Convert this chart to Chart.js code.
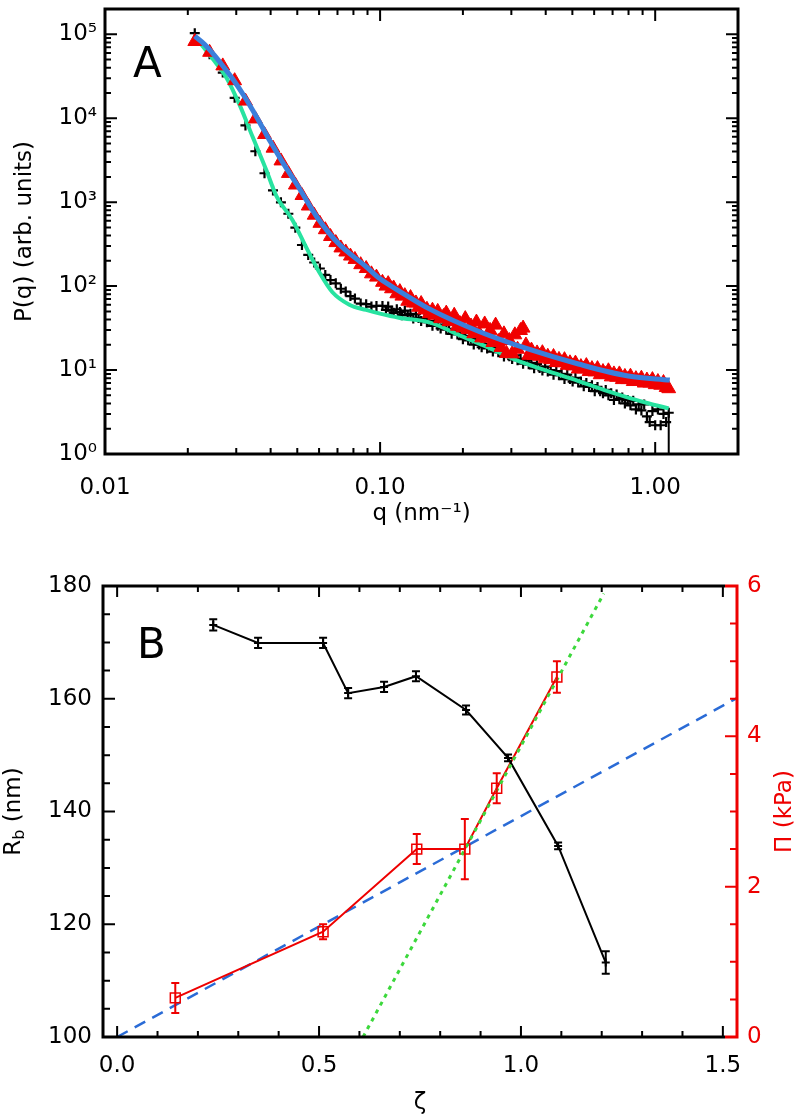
<!DOCTYPE html>
<html>
<head>
<meta charset="utf-8">
<script src="https://cdn.jsdelivr.net/npm/chart.js@4.4.0/dist/chart.umd.min.js"></script>
<style>
  html, body { margin: 0; padding: 0; background: #fff; }
  #wrap { position: relative; width: 799px; height: 1114px; }
  #chartA { position: absolute; left: 0; top: 0; }
  #chartB { position: absolute; left: 0; top: 545px; }
</style>
</head>
<body>
<div id="wrap">
  <canvas id="chartA" width="799" height="545"></canvas>
  <canvas id="chartB" width="799" height="569"></canvas>
</div>
<script>
// ---------- Panel A: scattering curves ----------
var qData = [0.0212, 0.0240, 0.0268, 0.0296, 0.0324, 0.0352, 0.0380, 0.0408, 0.0436, 0.0464,
  0.0492, 0.0520, 0.0548, 0.0576, 0.0604, 0.0632, 0.0660, 0.0690, 0.0720, 0.0750,
  0.0780, 0.0810, 0.0850, 0.0890, 0.0930, 0.0970,
  0.102, 0.105, 0.107, 0.110, 0.112, 0.115, 0.118, 0.120, 0.123, 0.126,
  0.129, 0.132, 0.135, 0.138, 0.141, 0.145, 0.148, 0.151, 0.155, 0.158,
  0.162, 0.166, 0.170, 0.174, 0.178, 0.182, 0.186, 0.191, 0.195, 0.200,
  0.204, 0.209, 0.214, 0.219, 0.224, 0.229, 0.234, 0.240, 0.245, 0.251,
  0.257, 0.263, 0.269, 0.275, 0.282, 0.288, 0.295, 0.302, 0.309, 0.316,
  0.324, 0.331, 0.339, 0.347, 0.355, 0.363, 0.372, 0.380, 0.389, 0.398,
  0.407, 0.417, 0.427, 0.437, 0.447, 0.457, 0.468, 0.479, 0.490, 0.501,
  0.513, 0.525, 0.537, 0.550, 0.562, 0.575, 0.589, 0.603, 0.617, 0.631,
  0.646, 0.661, 0.676, 0.692, 0.708, 0.724, 0.741, 0.759, 0.776, 0.794,
  0.813, 0.832, 0.851, 0.871, 0.891, 0.912, 0.933, 0.955, 0.977, 1.000,
  1.023, 1.047, 1.072, 1.096, 1.120];

var pBlack = [103000, 58000, 35000, 17500, 8200, 4040, 2210, 1380, 995, 728,
  497, 309, 235, 191, 162, 136, 118, 108, 93, 86,
  76, 71, 62, 61, 57, 58,
  58, 52, 57, 51, 48, 53, 49, 45, 51, 45,
  46.7, 41, 46.4, 41.8, 38.5, 41.5, 37.2, 38.3, 33.6, 37.4,
  33.6, 31.3, 34.6, 30.3, 30.9, 27, 30.1, 26.5, 27.1, 23.3,
  25.5, 22.6, 23.6, 20.1, 22.7, 20.1, 18.7, 20.4, 18.1, 19.0,
  16.6, 18.2, 16.3, 17.0, 14.5, 16.3, 14.6, 13.5, 15.0, 13.1,
  13.6, 11.9, 13.0, 11.7, 12.2, 10.5, 11.8, 10.6, 9.9, 11.0,
  9.6, 10.0, 8.8, 9.7, 8.7, 9.0, 7.8, 8.8, 7.8, 7.3,
  8.1, 7.1, 7.3, 6.4, 7.0, 6.3, 6.6, 5.6, 6.3, 5.6,
  5.3, 5.8, 5.0, 5.3, 4.4, 5.1, 4.5, 4.7, 4.0, 4.4,
  3.8, 4.3, 3.4, 3.9, 3.3, 3.9, 2.8, 2.4, 3.25, 2.2,
  3.4, 2.2, 3.0, 2.4, 3.1];

var pRed = [82000, 61000, 42000, 28000, 16000, 9800, 6400, 4400, 3100, 2200,
  1600, 1200, 900, 700, 560, 470, 390, 330, 285, 255,
  228, 208, 180, 162, 140, 128,
  111, 100, 107, 93, 95, 81, 86, 76, 77, 66,
  73, 63, 63, 56, 62, 52, 53, 47, 51.6, 45,
  50, 41, 43.5, 47.7, 37.7, 38.6, 45, 33.3, 35.9, 31.8,
  41, 30.4, 33.5, 27.1, 37.3, 27.4, 24.2, 35.4, 23.9, 29.7,
  21.3, 34.3, 21.9, 18.6, 27, 15.8, 22.5, 15.6, 26.3, 17.7,
  29.6, 31.6, 19.9, 15.0, 17.3, 14.9, 16.0, 14.6, 16.1, 13.6,
  14.6, 13.3, 14.5, 12.3, 13.4, 12.2, 13.3, 11.4, 12.2, 11.2,
  12.1, 10.3, 11.0, 10.3, 11.3, 9.6, 10.4, 9.5, 10.4, 8.8,
  9.6, 8.9, 9.8, 8.3, 9.0, 8.2, 9.0, 7.7, 8.4, 7.7,
  8.45, 7.3, 7.9, 7.3, 8.0, 7.0, 7.6, 7.0, 7.7, 6.7,
  7.3, 6.6, 7.1, 6.2, 6.0];

// fit curves
var qGreenFit = [0.0212, 0.0221, 0.0250, 0.0277, 0.0308, 0.0344, 0.0386, 0.0420, 0.0480, 0.0544,
  0.0601, 0.0670, 0.0773, 0.0890, 0.100, 0.117, 0.151, 0.200, 0.248, 0.311,
  0.400, 0.526, 0.650, 0.798, 0.950, 1.120];
var pGreenFit = [95000, 80000, 48000, 30000, 14600, 6000, 2400, 1180, 614, 272,
  146, 85, 60, 52, 47, 42, 37, 25, 18.5, 13.2,
  9.9, 7.4, 5.8, 4.7, 4.0, 3.5];

var qBlueFit = [0.0212, 0.0230, 0.0250, 0.0272, 0.0291, 0.0320, 0.0356, 0.0400, 0.0442, 0.0500,
  0.0586, 0.0700, 0.0890, 0.100, 0.117, 0.151, 0.229, 0.347, 0.526, 0.798, 1.130];
var pBlueFit = [95000, 76000, 56000, 39500, 29500, 18500, 10300, 5200, 3000, 1600,
  685, 330, 170, 122, 88, 53.6, 28.8, 17.7, 11.8, 8.5, 7.6];

var blackTailErr = 2.1;
var aXTicks = [0.01, 0.1, 1];
var aYTicks = [1, 10, 100, 1000, 10000, 100000];

// ---------- Panel B: radius and pressure vs zeta ----------
var zetaRb = [0.238, 0.349, 0.510, 0.572, 0.661, 0.740, 0.864, 0.968, 1.092, 1.210];
var rb = [173.1, 169.9, 169.9, 161.0, 162.1, 164.0, 158.0, 149.5, 133.9, 113.2];
var rbErr = [1.0, 0.9, 0.9, 0.9, 0.9, 0.9, 0.8, 0.6, 0.6, 2.0];

var zetaPi = [0.144, 0.510, 0.742, 0.861, 0.940, 1.089];
var pi = [0.52, 1.40, 2.50, 2.50, 3.31, 4.79];
var piErr = [0.2, 0.1, 0.2, 0.4, 0.2, 0.21];

var zetaBlueFit = [0, 1.535];
var piBlueFit = [0, 4.51];
var zetaGreenFit = [0.609, 1.205];
var piGreenFit = [0, 5.9];

var bXTicks = [0, 0.5, 1, 1.5];
var bYTicks = [100, 120, 140, 160, 180];
var bY2Ticks = [0, 2, 4, 6];

Chart.defaults.font.family = "'DejaVu Sans', sans-serif";
Chart.defaults.font.size = 23;
Chart.defaults.color = '#000';

function pts(xs, ys) {
  return xs.map(function (x, i) { return { x: x, y: ys[i] }; });
}

var sup = { 0: '\u2070', 1: '\u00b9', 2: '\u00b2', 3: '\u00b3', 4: '\u2074', 5: '\u2075' };

// fixed axis boxes so the plot areas sit where the figure has them
function fixWidth(w) {
  return function (s) { s.width = w; s.paddingTop = 0; s.paddingBottom = 0; };
}
function fixHeight(h) {
  return function (s) { s.height = h; s.paddingLeft = 0; s.paddingRight = 0; };
}
function setTicks(list) {
  return function (s) { s.ticks = list.map(function (v) { return { value: v }; }); };
}

// minor tick positions (axis decoration only)
function logMinors(lo, hi) {
  var out = [];
  for (var d = lo; d <= hi; d++) {
    for (var m = 2; m <= 9; m++) out.push(m * Math.pow(10, d));
  }
  return out;
}
function linMinors(from, to, step, majorStep) {
  var out = [];
  var n = Math.round((to - from) / step);
  for (var i = 0; i <= n; i++) {
    var v = from + i * step;
    if (Math.abs(v / majorStep - Math.round(v / majorStep)) > 1e-6) out.push(v);
  }
  return out;
}

function tickMarks(ctx, scale, area, values, len, sides) {
  ctx.beginPath();
  values.forEach(function (v) {
    var p = scale.getPixelForValue(v);
    if (scale.isHorizontal()) {
      if (p < area.left + 1 || p > area.right - 1) return;
      if (sides.indexOf('bottom') >= 0) { ctx.moveTo(p, area.bottom); ctx.lineTo(p, area.bottom - len); }
      if (sides.indexOf('top') >= 0) { ctx.moveTo(p, area.top); ctx.lineTo(p, area.top + len); }
    } else {
      if (p < area.top + 1 || p > area.bottom - 1) return;
      if (sides.indexOf('left') >= 0) { ctx.moveTo(area.left, p); ctx.lineTo(area.left + len, p); }
      if (sides.indexOf('right') >= 0) { ctx.moveTo(area.right, p); ctx.lineTo(area.right - len, p); }
    }
  });
  ctx.stroke();
}

// error bars from dataset.errLo / errHi
var errorBars = {
  id: 'errorBars',
  afterDatasetsDraw: function (chart) {
    var ctx = chart.ctx, a = chart.chartArea;
    ctx.save();
    ctx.beginPath();
    ctx.rect(a.left, a.top, a.right - a.left, a.bottom - a.top);
    ctx.clip();
    chart.data.datasets.forEach(function (ds, i) {
      if (!ds.errLo) return;
      var meta = chart.getDatasetMeta(i);
      var ys = chart.scales[meta.yAxisID];
      ctx.strokeStyle = ds.errColor;
      ctx.lineWidth = 2;
      meta.data.forEach(function (pt, j) {
        if (ds.errLo[j] == null) return;
        var y1 = ys.getPixelForValue(ds.errLo[j]);
        var y2 = ys.getPixelForValue(ds.errHi[j]);
        ctx.beginPath();
        ctx.moveTo(pt.x, y1); ctx.lineTo(pt.x, y2);
        if (ds.errCap) {
          ctx.moveTo(pt.x - ds.errCap, y1); ctx.lineTo(pt.x + ds.errCap, y1);
          ctx.moveTo(pt.x - ds.errCap, y2); ctx.lineTo(pt.x + ds.errCap, y2);
        }
        ctx.stroke();
      });
    });
    ctx.restore();
  }
};

// Panel A frame with inward ticks
var frameA = {
  id: 'frameA',
  afterDraw: function (chart) {
    var ctx = chart.ctx, a = chart.chartArea, x = chart.scales.x, y = chart.scales.y;
    ctx.save();
    ctx.strokeStyle = '#000';
    ctx.lineWidth = 3;
    ctx.strokeRect(a.left, a.top, a.right - a.left, a.bottom - a.top);
    ctx.lineWidth = 2;
    tickMarks(ctx, x, a, aXTicks, 12, ['bottom', 'top']);
    tickMarks(ctx, x, a, logMinors(-2, 0), 6, ['bottom', 'top']);
    tickMarks(ctx, y, a, aYTicks, 12, ['left', 'right']);
    tickMarks(ctx, y, a, logMinors(0, 5), 6, ['left', 'right']);
    ctx.fillStyle = '#000';
    ctx.font = "42px 'DejaVu Sans'";
    ctx.textBaseline = 'alphabetic';
    ctx.fillText('A', 133, 77);
    ctx.restore();
  }
};

// Panel B frame, red right axis, titles
var frameB = {
  id: 'frameB',
  afterDraw: function (chart) {
    var ctx = chart.ctx, a = chart.chartArea;
    var x = chart.scales.x, y = chart.scales.y, y2 = chart.scales.y2;
    var red = '#ee0000';
    ctx.save();
    ctx.strokeStyle = '#000';
    ctx.lineWidth = 3;
    ctx.beginPath();
    ctx.moveTo(a.right - 12, a.top); ctx.lineTo(a.left, a.top);
    ctx.lineTo(a.left, a.bottom); ctx.lineTo(a.right - 12, a.bottom);
    ctx.stroke();
    ctx.lineWidth = 2;
    tickMarks(ctx, x, a, bXTicks, 11, ['bottom', 'top']);
    tickMarks(ctx, x, a, linMinors(0, 1.5, 0.1, 0.5), 6, ['bottom', 'top']);
    tickMarks(ctx, y, a, bYTicks, 12, ['left']);
    tickMarks(ctx, y, a, linMinors(100, 180, 5, 20), 7, ['left']);
    ctx.strokeStyle = red;
    ctx.lineWidth = 3;
    ctx.beginPath();
    ctx.moveTo(a.right - 12, a.top); ctx.lineTo(a.right, a.top);
    ctx.lineTo(a.right, a.bottom); ctx.lineTo(a.right - 12, a.bottom);
    ctx.stroke();
    ctx.lineWidth = 2;
    tickMarks(ctx, y2, a, bY2Ticks, 12, ['right']);
    tickMarks(ctx, y2, a, linMinors(0, 6, 0.5, 2), 7, ['right']);

    ctx.fillStyle = '#000';
    ctx.font = "42px 'DejaVu Sans'";
    ctx.textBaseline = 'alphabetic';
    ctx.fillText('B', 137, 113);

    var midY = (a.top + a.bottom) / 2;
    // left title R_b (nm)
    ctx.save();
    ctx.translate(14, midY);
    ctx.rotate(-Math.PI / 2);
    ctx.textBaseline = 'middle';
    ctx.font = "23px 'DejaVu Sans'";
    var w1 = ctx.measureText('R').width;
    ctx.font = "16px 'DejaVu Sans'";
    var w2 = ctx.measureText('b').width;
    ctx.font = "23px 'DejaVu Sans'";
    var w3 = ctx.measureText(' (nm)').width;
    var sx = -(w1 + w2 + w3) / 2;
    ctx.fillText('R', sx, 0);
    ctx.font = "16px 'DejaVu Sans'";
    ctx.fillText('b', sx + w1, 6);
    ctx.font = "23px 'DejaVu Sans'";
    ctx.fillText(' (nm)', sx + w1 + w2, 0);
    ctx.restore();

    // right title
    ctx.save();
    ctx.translate(785, midY);
    ctx.rotate(-Math.PI / 2);
    ctx.textBaseline = 'middle';
    ctx.textAlign = 'center';
    ctx.fillStyle = red;
    ctx.font = "23px 'DejaVu Sans'";
    ctx.fillText('\u03a0 (kPa)', 0, 0);
    ctx.restore();
    ctx.restore();
  }
};

// ---------- Chart A ----------
var lastIdx = qData.length - 1;
new Chart(document.getElementById('chartA'), {
  type: 'scatter',
  data: {
    datasets: [
      {
        label: 'fit 2',
        data: pts(qBlueFit, pBlueFit),
        showLine: true,
        borderColor: '#3b7fdb',
        borderWidth: 5,
        pointRadius: 0,
        cubicInterpolationMode: 'monotone'
      },
      {
        label: 'sample 2',
        data: pts(qData, pRed),
        pointStyle: 'triangle',
        pointRadius: 8,
        backgroundColor: '#f00000',
        borderColor: '#f00000',
        borderWidth: 1
      },
      {
        label: 'fit 1',
        data: pts(qGreenFit, pGreenFit),
        showLine: true,
        borderColor: '#27e3a0',
        borderWidth: 4,
        pointRadius: 0,
        cubicInterpolationMode: 'monotone'
      },
      {
        label: 'sample 1',
        data: pts(qData, pBlack),
        pointStyle: 'cross',
        pointRadius: 5,
        borderColor: '#000',
        borderWidth: 2.2,
        errColor: '#000',
        errCap: 0,
        errLo: qData.map(function (q, i) { return i === lastIdx ? pBlack[i] - blackTailErr : null; }),
        errHi: qData.map(function (q, i) { return i === lastIdx ? pBlack[i] : null; })
      }
    ]
  },
  options: {
    responsive: false,
    animation: false,
    events: [],
    layout: { padding: { top: 4, right: 61, left: 0, bottom: 0 } },
    plugins: { legend: { display: false }, tooltip: { enabled: false } },
    scales: {
      x: {
        type: 'logarithmic',
        min: 0.01,
        max: 2,
        afterFit: fixHeight(91),
        afterBuildTicks: setTicks(aXTicks),
        grid: { display: false, drawTicks: false },
        border: { display: false },
        ticks: {
          padding: 20, maxRotation: 0, autoSkip: false,
          callback: function (v) { return Number(v).toFixed(2); }
        },
        title: { display: true, text: 'q (nm\u207b\u00b9)', padding: { top: 0, bottom: 17 } }
      },
      y: {
        type: 'logarithmic',
        min: 1,
        max: 200000,
        afterFit: fixWidth(105),
        afterBuildTicks: setTicks(aYTicks),
        grid: { display: false, drawTicks: false },
        border: { display: false },
        ticks: {
          padding: 8, autoSkip: false,
          callback: function (v) { return '10' + sup[Math.round(Math.log10(v))]; }
        },
        title: { display: true, text: 'P(q) (arb. units)', padding: { top: 11, bottom: 0 } }
      }
    }
  },
  plugins: [errorBars, frameA]
});

// ---------- Chart B ----------
new Chart(document.getElementById('chartB'), {
  type: 'scatter',
  data: {
    datasets: [
      {
        label: 'steep fit',
        data: pts(zetaGreenFit, piGreenFit),
        yAxisID: 'y2',
        showLine: true,
        borderColor: '#3cd83c',
        borderWidth: 3,
        borderDash: [4, 5],
        pointRadius: 0
      },
      {
        label: 'Rb',
        data: pts(zetaRb, rb),
        yAxisID: 'y',
        showLine: true,
        borderColor: '#000',
        borderWidth: 2,
        pointStyle: 'cross',
        pointRadius: 4,
        pointBorderWidth: 2,
        errColor: '#000',
        errCap: 4,
        errLo: rb.map(function (v, i) { return v - rbErr[i]; }),
        errHi: rb.map(function (v, i) { return v + rbErr[i]; })
      },
      {
        label: 'Pi',
        data: pts(zetaPi, pi),
        yAxisID: 'y2',
        showLine: true,
        borderColor: '#ee0000',
        borderWidth: 2,
        pointStyle: 'rect',
        pointRadius: 7,
        pointBorderWidth: 1.5,
        pointBackgroundColor: 'rgba(0,0,0,0)',
        errColor: '#ee0000',
        errCap: 4,
        errLo: pi.map(function (v, i) { return v - piErr[i]; }),
        errHi: pi.map(function (v, i) { return v + piErr[i]; })
      },
      {
        label: 'linear fit',
        data: pts(zetaBlueFit, piBlueFit),
        yAxisID: 'y2',
        showLine: true,
        borderColor: '#2a6bd6',
        borderWidth: 2.5,
        borderDash: [12, 8],
        pointRadius: 0
      }
    ]
  },
  options: {
    responsive: false,
    animation: false,
    events: [],
    layout: { padding: { top: 41, right: 0, left: 0, bottom: 0 } },
    plugins: { legend: { display: false }, tooltip: { enabled: false } },
    scales: {
      x: {
        type: 'linear',
        min: -0.035,
        max: 1.535,
        afterFit: fixHeight(77),
        afterBuildTicks: setTicks(bXTicks),
        grid: { display: false, drawTicks: false },
        border: { display: false },
        ticks: { padding: 15, maxRotation: 0, autoSkip: false, callback: function (v) { return Number(v).toFixed(1); } },
        title: { display: true, text: '\u03b6', padding: { top: 0, bottom: -3 } }
      },
      y: {
        type: 'linear',
        position: 'left',
        min: 100,
        max: 180,
        afterFit: fixWidth(103),
        afterBuildTicks: setTicks(bYTicks),
        grid: { display: false, drawTicks: false },
        border: { display: false },
        ticks: { padding: 11, autoSkip: false }
      },
      y2: {
        type: 'linear',
        position: 'right',
        min: 0,
        max: 6,
        afterFit: fixWidth(62),
        afterBuildTicks: setTicks(bY2Ticks),
        grid: { display: false, drawTicks: false },
        border: { display: false },
        ticks: { padding: 10, color: '#ee0000', autoSkip: false }
      }
    }
  },
  plugins: [errorBars, frameB]
});
</script>
</body>
</html>
